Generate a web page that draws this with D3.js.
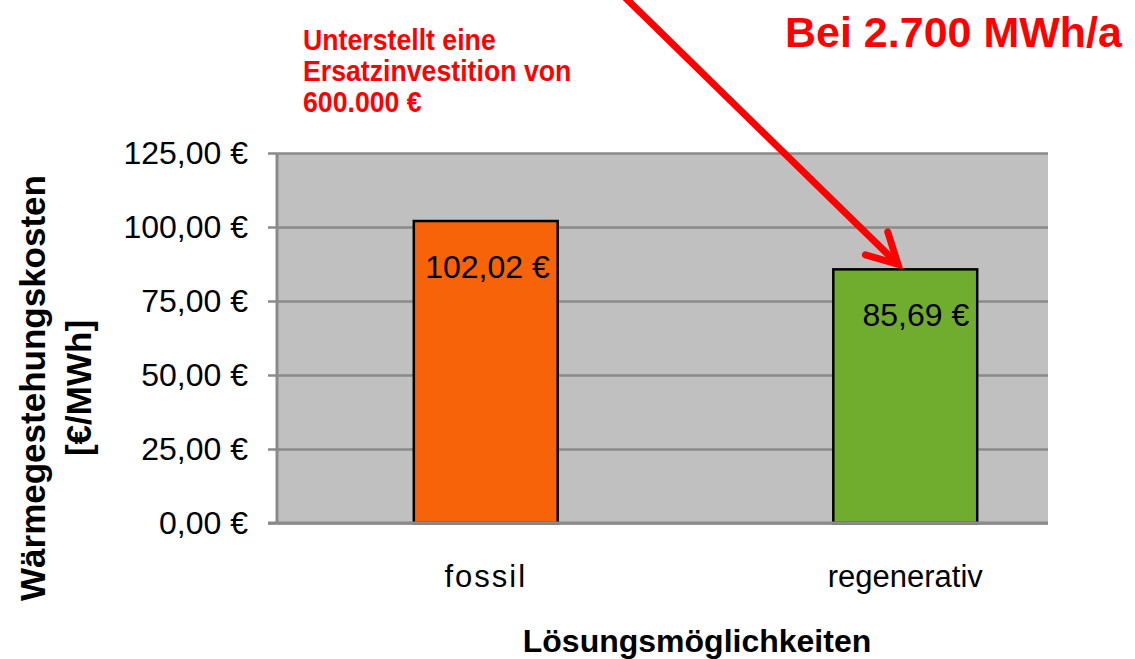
<!DOCTYPE html>
<html>
<head>
<meta charset="utf-8">
<script src="https://cdn.jsdelivr.net/npm/d3@7"></script>
<style>
  body { margin: 0; background: #fff; }
  svg { display: block; font-family: Arial, "Liberation Sans", sans-serif; }
</style>
</head>
<body>
<div id="chart"></div>
<script>
// data
const categories = ["fossil", "regenerativ"];
const values = [102.02, 85.69];
const barColors = ["#f66309", "#70ad2f"];
const yTicks = [0, 25, 50, 75, 100, 125];
const noteLines = ["Unterstellt eine", "Ersatzinvestition von", "600.000 €"];
const headline = "Bei 2.700 MWh/a";

const W = 1135, H = 659;
const plot = { left: 277, right: 1048, top: 153, bottom: 523 };

const de = d3.formatLocale({ decimal: ",", thousands: ".", grouping: [3], currency: ["", " €"] });
const euro = de.format(",.2f");

const svg = d3.select("#chart").append("svg")
  .attr("width", W)
  .attr("height", H);

const y = d3.scaleLinear()
  .domain([0, 125])
  .range([plot.bottom, plot.top]);

const x = d3.scaleBand()
  .domain(categories)
  .range([276, 1115])
  .paddingInner(0.657)
  .paddingOuter(0.3285);

// plot background
svg.append("rect")
  .attr("x", plot.left)
  .attr("y", plot.top)
  .attr("width", plot.right - plot.left)
  .attr("height", plot.bottom - plot.top)
  .attr("fill", "#c0c0c0");

// gridlines
const grid = svg.append("g")
  .attr("transform", "translate(" + plot.left + ",0)")
  .call(d3.axisLeft(y).tickValues(yTicks).tickSize(-(plot.right - plot.left)).tickFormat(""));
grid.select(".domain").remove();
grid.selectAll(".tick line").attr("stroke", "#8a8a8a").attr("stroke-width", 2.5);

// y axis with labels
const yAxis = svg.append("g")
  .attr("transform", "translate(" + plot.left + ",0)")
  .call(d3.axisLeft(y).tickValues(yTicks).tickSize(9).tickPadding(20).tickFormat(d => euro(d) + " €"));
yAxis.select(".domain").remove();
yAxis.selectAll(".tick line").attr("stroke", "#8a8a8a").attr("stroke-width", 2.5);
yAxis.selectAll(".tick text")
  .attr("fill", "#000")
  .attr("font-size", 32)
  .attr("font-family", "Arial, 'Liberation Sans', sans-serif");

// bars
svg.selectAll("rect.bar")
  .data(values)
  .enter()
  .append("rect")
  .attr("class", "bar")
  .attr("x", (d, i) => x(categories[i]))
  .attr("y", d => y(d))
  .attr("width", x.bandwidth())
  .attr("height", d => y(0) - y(d))
  .attr("fill", (d, i) => barColors[i])
  .attr("stroke", "#000")
  .attr("stroke-width", 2.5);

// axis lines
svg.append("line")
  .attr("x1", plot.left).attr("x2", plot.left)
  .attr("y1", plot.top).attr("y2", plot.bottom)
  .attr("stroke", "#8a8a8a").attr("stroke-width", 3);
svg.append("line")
  .attr("x1", plot.left - 9).attr("x2", plot.right)
  .attr("y1", plot.bottom).attr("y2", plot.bottom)
  .attr("stroke", "#8a8a8a").attr("stroke-width", 3);

// data labels
svg.selectAll("text.val")
  .data(values)
  .enter()
  .append("text")
  .attr("class", "val")
  .attr("x", (d, i) => x(categories[i]) + x.bandwidth() - 8)
  .attr("y", d => y(d) + 57)
  .attr("text-anchor", "end")
  .attr("font-size", 32)
  .text(d => euro(d) + " €");

// x axis labels
const xAxis = svg.append("g")
  .attr("transform", "translate(0," + plot.bottom + ")")
  .call(d3.axisBottom(x).tickSize(0).tickPadding(42));
xAxis.select(".domain").remove();
xAxis.selectAll(".tick text")
  .attr("fill", "#000")
  .attr("font-size", 31)
  .attr("font-family", "Arial, 'Liberation Sans', sans-serif");
xAxis.selectAll(".tick text").filter(d => d === "fossil").attr("letter-spacing", 2);

// axis titles
svg.append("text")
  .attr("x", 697)
  .attr("y", 652)
  .attr("text-anchor", "middle")
  .attr("font-size", 32)
  .attr("font-weight", "bold")
  .text("Lösungsmöglichkeiten");

const yTitle = svg.append("text")
  .attr("transform", "translate(0,388) rotate(-90)")
  .attr("text-anchor", "middle")
  .attr("font-size", 35)
  .attr("font-weight", "bold");
yTitle.append("tspan").attr("x", 0).attr("y", 45).text("Wärmegestehungskosten");
yTitle.append("tspan").attr("x", 0).attr("y", 91).text("[€/MWh]");

// annotations
svg.append("text")
  .attr("x", 785)
  .attr("y", 47)
  .attr("fill", "#ff0000")
  .attr("font-size", 43)
  .attr("font-weight", "bold")
  .text(headline);

// condensed look: squeeze the note text horizontally
svg.selectAll("text.note")
  .data(noteLines)
  .enter()
  .append("text")
  .attr("class", "note")
  .attr("transform", (d, i) => "translate(303," + (50 + i * 31) + ") scale(0.89,1)")
  .attr("fill", "#ff0000")
  .attr("font-size", 30)
  .attr("font-weight", "bold")
  .text(d => d);

// arrow pointing to the regenerativ bar
const tipX = x("regenerativ") + x.bandwidth() * 0.45;
const tipY = y(values[1]) - 5;
const ang = Math.atan2(264, 270);
const startX = tipX - Math.cos(ang) * 390, startY = tipY - Math.sin(ang) * 390;
const arrow = svg.append("g")
  .attr("stroke", "#ff0000")
  .attr("stroke-width", 7)
  .attr("stroke-linecap", "round")
  .attr("fill", "none");
arrow.append("line")
  .attr("x1", startX).attr("y1", startY)
  .attr("x2", tipX - Math.cos(ang) * 4).attr("y2", tipY - Math.sin(ang) * 4);
const arm = 34, spread = 28 * Math.PI / 180;
arrow.append("path")
  .attr("stroke-linejoin", "miter")
  .attr("d", d3.line()([
    [tipX - arm * Math.cos(ang - spread), tipY - arm * Math.sin(ang - spread)],
    [tipX, tipY],
    [tipX - arm * Math.cos(ang + spread), tipY - arm * Math.sin(ang + spread)]
  ]));
</script>
</body>
</html>
